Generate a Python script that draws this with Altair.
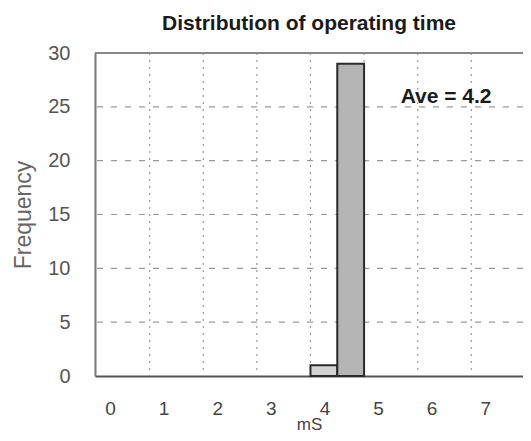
import altair as alt
import pandas as pd

# ---- data ----
bin_start = [3.74, 4.24]
bin_end = [4.24, 4.74]
counts = [1, 29]
bar_fill = ["#d2d2d2", "#b4b4b4"]

x_ticks = [0, 1, 2, 3, 4, 5, 6, 7]
y_ticks = [0, 5, 10, 15, 20, 25, 30]
x_grid = [0.74, 1.74, 2.74, 3.74, 4.74, 5.74, 6.74]
y_grid = [5, 10, 15, 20, 25]

ave_label = ["Ave = 4.2"]
ave_x = [6.27]
ave_y = [25.9]

x_domain = [-0.28, 7.705]
y_domain = [0, 30]

FONT = "Liberation Sans"

bars_df = pd.DataFrame({"start": bin_start, "end": bin_end, "count": counts,
                        "base": [0] * len(counts), "fill": bar_fill})
xg_df = pd.DataFrame({"g": x_grid})
yg_df = pd.DataFrame({"g": y_grid})
txt_df = pd.DataFrame({"label": ave_label, "x": ave_x, "y": ave_y})

xscale = alt.Scale(domain=x_domain, nice=False, zero=False)
yscale = alt.Scale(domain=y_domain, nice=False, zero=False)

xaxis = alt.Axis(
    values=x_ticks,
    title="mS",
    grid=False,
    ticks=False,
    domain=True,
    domainColor="#555555",
    domainWidth=2,
    labelFont=FONT,
    labelFontSize=19,
    labelColor="#444444",
    labelPadding=23,
    titleFont=FONT,
    titleFontSize=17,
    titleFontWeight="normal",
    titleColor="#444444",
    titlePadding=-2,
)
yaxis = alt.Axis(
    values=y_ticks,
    title="Frequency",
    grid=False,
    ticks=False,
    domain=True,
    domainColor="#777777",
    domainWidth=2,
    labelFont=FONT,
    labelFontSize=20,
    labelColor="#555555",
    labelPadding=25,
    titleFont=FONT,
    titleFontSize=23,
    titleFontWeight="normal",
    titleColor="#666666",
    titlePadding=12,
)

vgrid = alt.Chart(xg_df).mark_rule(color="#9a9a9a", strokeDash=[2, 5], strokeWidth=1.2).encode(
    x=alt.X("g:Q", scale=xscale, axis=xaxis)
)
hgrid = alt.Chart(yg_df).mark_rule(color="#9a9a9a", strokeDash=[6, 8], strokeWidth=1.2).encode(
    y=alt.Y("g:Q", scale=yscale, axis=yaxis)
)

bars = alt.Chart(bars_df).mark_bar(stroke="#2a2a2a", strokeWidth=2).encode(
    x=alt.X("start:Q", scale=xscale, axis=xaxis),
    x2="end:Q",
    y=alt.Y("count:Q", scale=yscale, axis=yaxis),
    y2="base:Q",
    fill=alt.Fill("fill:N", scale=None),
)

top_border = alt.Chart(txt_df).mark_rule(color="#888888", strokeWidth=2).encode(
    y=alt.value(0)
)

ave = alt.Chart(txt_df).mark_text(
    font=FONT, fontSize=21, fontWeight="bold", color="#1a1a1a"
).encode(
    x=alt.X("x:Q", scale=xscale, axis=xaxis),
    y=alt.Y("y:Q", scale=yscale, axis=yaxis),
    text="label:N",
)

chart = (
    alt.layer(vgrid, hgrid, bars, top_border, ave)
    .properties(
        width=428,
        height=323,
        autosize="none",
        padding={"left": 87, "top": 45, "right": 0, "bottom": 56},
        title=alt.TitleParams(
            "Distribution of operating time",
            font=FONT,
            fontSize=21,
            fontWeight="bold",
            color="#1a1a1a",
            anchor="middle",
            offset=9,
        ),
    )
    .configure_view(stroke=None)
    .configure(background="white")
)

chart.save("out.html", embed_options={"renderer": "svg", "actions": False})
